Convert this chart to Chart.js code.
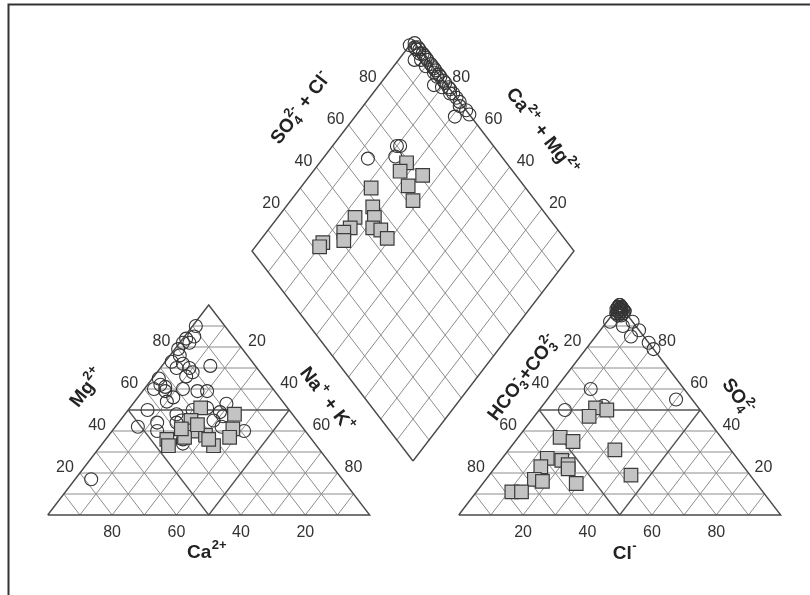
<!DOCTYPE html>
<html>
<head>
<meta charset="utf-8">
<script src="https://cdn.jsdelivr.net/npm/chart.js@4.4.0/dist/chart.umd.min.js"></script>
<style>
html,body{margin:0;padding:0;background:#ffffff;}
canvas{display:block;}
</style>
</head>
<body>
<canvas id="c" width="810" height="595"></canvas>
<script>
// ---------------- DATA (percent of meq) ----------------
// Cation triangle – open circles
const catCircleCa  = [9,15,12,15,17,20,21,25,22,21,25,21,24,14,33,34,37,33,33,28,24,21,36,44,51,44,46,36,36,25,18,26,19,22,41,78,30,38,25,34,40,22];
const catCircleMg  = [90,84,85,82,82,79,76,73,72,70,70,68,66,71,65,62,60,61,56,60,59,59,54,50,42,44,40,48,45,51,53,45,40,47,34,17,50,44,42,59,36,49];
const catCircleNaK = [1,1,3,3,1,1,3,2,6,9,5,11,10,15,2,4,3,6,11,12,17,20,10,6,7,12,14,16,19,24,29,29,41,31,25,5,20,18,33,7,24,29];
// Cation triangle – grey squares
const catSquareCa  = [27,18,22,33,35,45,46,39,38,32,32,25,32,32];
const catSquareMg  = [51,48,41,45,40,36,33,37,41,38,33,37,43,36];
const catSquareNaK = [22,34,37,22,25,19,21,24,21,30,35,38,25,32];

// Anion triangle – open circles
const anCircleSO4  = [92,90,92,88,85,82,79,60,50,52,55,100,99,99,98,98,98,97,97,97,96,96,96,99,100,98,97,99,98,97,98,100,99,97,96,99,98,97,96,95,95];
const anCircleCl   = [1,6,8,12,11,18,21,11,8,19,40,0,1,0,1,2,0,2,1,3,2,3,1,1,0,1,1,0,1,2,1,0,1,1,2,0,2,3,1,2,3];
const anCircleHCO3 = [7,4,0,0,4,0,0,29,42,29,5,0,0,1,1,0,2,1,2,0,2,1,3,0,0,1,2,1,1,1,1,0,0,2,2,1,0,0,3,3,2];
// Anion triangle – grey squares
const anSquareSO4  = [51,50,47,37,35,31,27,26,24,22,23,17,16,15,19,11,11];
const anSquareCl   = [17,21,17,13,18,33,14,19,22,23,14,15,18,29,44,11,14];
const anSquareHCO3 = [32,29,36,50,47,36,59,55,54,55,63,68,66,56,37,78,75];

// Diamond – open circles (SO4+Cl, Ca+Mg)
const diaCircleSO4Cl = [98,99,100,100,100,96,100,100,100,100,96,100,100,100,95,71,70,67,58,100,99,100,98,100,99,100,99,100,100,99,100,98,100,99,100,100,98,100,99,100];
const diaCircleCaMg  = [100,98,96,93,91,95,89,86,83,80,83,77,71,67,69,79,80,78,86,99,97,94,93,88,84,75,70,65,97,95,92,90,87,86,84,81,80,78,76,73];
// Diamond – grey squares
const diaSquareSO4Cl = [69,65,71,64,62,52,48,46,43,45,45,40,36,33,31,24,22];
const diaSquareCaMg  = [73,73,65,67,62,78,73,70,68,65,61,76,75,76,74,80,80];

const tickValues = [20,40,60,80];

// ---------------- GEOMETRY (layout only) ----------------
const W = 322, H = 210, BASE_Y = 515, CAT_X0 = 47.7, AN_X0 = 458.7, DIA_X = 413, DIA_Y = 461;

function catXY(mg, nak){ return {x: CAT_X0 + W*(nak + mg/2)/100, y: BASE_Y - H*mg/100}; }
function anXY(so4, cl){ return {x: AN_X0 + W*(cl + so4/2)/100, y: BASE_Y - H*so4/100}; }
function diaXY(a, c){ return {x: DIA_X + (W/2)*(a - c)/100, y: DIA_Y - H*(a + c)/100}; }

function catPoints(ca, mg, nak){
  return ca.map((v,i)=>{ const s = v + mg[i] + nak[i]; return catXY(100*mg[i]/s, 100*nak[i]/s); });
}
function anPoints(so4, cl, hco3){
  return so4.map((v,i)=>{ const s = v + cl[i] + hco3[i]; return anXY(100*v/s, 100*cl[i]/s); });
}
function diaPoints(a, c){ return a.map((v,i)=>diaXY(v, c[i])); }

const GAP = {x:null, y:null};
function segs(list){ const out=[]; list.forEach(s=>{ out.push(s[0], s[1], GAP); }); return out; }

function triLines(proj, ks){
  const L = [];
  ks.forEach(k=>{
    L.push([proj(k,0), proj(k,100-k)]);
    L.push([proj(0,k), proj(100-k,k)]);
    L.push([proj(0,100-k), proj(100-k,0)]);
  });
  return L;
}
function triOutline(proj){ return [proj(0,0), proj(0,100), proj(100,0), proj(0,0)]; }

const minorK = [10,20,30,40,60,70,80,90];
const allK = [10,20,30,40,50,60,70,80,90];

const gridMinor = segs([
  ...triLines(catXY, minorK),
  ...triLines(anXY, minorK),
  ...allK.map(k=>[diaXY(k,0), diaXY(k,100)]),
  ...allK.map(k=>[diaXY(0,k), diaXY(100,k)])
]);
const gridMedial = segs([...triLines(catXY,[50]), ...triLines(anXY,[50])]);
const outlines = [
  ...triOutline(catXY), GAP,
  ...triOutline(anXY), GAP,
  diaXY(0,0), diaXY(100,0), diaXY(100,100), diaXY(0,100), diaXY(0,0)
];

const circleStyle = {type:'scatter', pointStyle:'circle', pointRadius:6.5, pointHoverRadius:6.5,
  pointBorderColor:'#353535', pointBackgroundColor:'rgba(255,255,255,0)', pointBorderWidth:1.1, showLine:false, order:1};
const squareStyle = {type:'scatter', pointStyle:'rect', pointRadius:9.6, pointHoverRadius:9.6,
  pointBorderColor:'#3c3c3c', pointBackgroundColor:'#c3c3c3', pointBorderWidth:1.2, showLine:false, order:0};
const lineStyle = {type:'scatter', showLine:true, pointRadius:0, pointHoverRadius:0, spanGaps:false, tension:0};

// ---------------- TEXT PLUGIN ----------------
const FONT = '"Liberation Sans", Arial, Helvetica, sans-serif';
function drawRich(ctx, parts, cx, cy, angleDeg, size, bold){
  const wt = bold ? 'bold ' : '';
  const small = Math.round(size*0.68);
  ctx.save();
  ctx.translate(cx, cy);
  ctx.rotate(angleDeg*Math.PI/180);
  ctx.textBaseline = 'alphabetic';
  ctx.textAlign = 'left';
  const widthOf = p=>{
    if (typeof p === 'string'){ ctx.font = wt+size+'px '+FONT; return ctx.measureText(p).width; }
    ctx.font = wt+small+'px '+FONT;
    return Math.max(p.sup ? ctx.measureText(p.sup).width : 0, p.sub ? ctx.measureText(p.sub).width : 0) + 1;
  };
  let total = 0; parts.forEach(p=> total += widthOf(p));
  let x = -total/2; const base = size*0.36;
  parts.forEach(p=>{
    const w = widthOf(p);
    if (typeof p === 'string'){
      ctx.font = wt+size+'px '+FONT; ctx.fillText(p, x, base);
    } else {
      ctx.font = wt+small+'px '+FONT;
      if (p.sup) ctx.fillText(p.sup, x+0.5, base - size*0.45);
      if (p.sub) ctx.fillText(p.sub, x+0.5, base + size*0.22);
    }
    x += w;
  });
  ctx.restore();
}

const textPlugin = {
  id:'piperText',
  afterDraw(chart){
    const ctx = chart.ctx;
    const sx = chart.scales.x, sy = chart.scales.y;
    const P = p => ({x: sx.getPixelForValue(p.x), y: sy.getPixelForValue(p.y)});
    // frame
    ctx.save();
    ctx.strokeStyle = '#333'; ctx.lineWidth = 2;
    ctx.beginPath(); ctx.moveTo(8.5, 595); ctx.lineTo(8.5, 4.5); ctx.lineTo(810, 4.5); ctx.stroke();
    ctx.restore();
    // tick labels
    ctx.save();
    ctx.fillStyle = '#333';
    ctx.font = '16px '+FONT;
    ctx.textAlign = 'center'; ctx.textBaseline = 'middle';
    const put = (p, dx, dy, t) => { const q = P(p); ctx.fillText(String(t), q.x+dx, q.y+dy); };
    tickValues.forEach(v=>{
      put(catXY(v,0), -15, -5, v);          // Mg (left edge)
      put(catXY(100-v,v), 16, -5, v);       // Na+K (right edge), 0 at apex
      put(catXY(0,100-v), 0, 18, v);        // Ca (base)
      put(anXY(100-v,0), -15, -5, v);       // HCO3 (left edge)
      put(anXY(v,100-v), 15, -5, v);        // SO4 (right edge)
      put(anXY(0,v), 0, 18, v);             // Cl (base)
      put(diaXY(v,100), -13, -5, v);        // SO4+Cl (upper-left edge)
      put(diaXY(100,v), 16, -5, v);         // Ca+Mg (upper-right edge)
    });
    ctx.restore();
    // axis titles
    ctx.save();
    ctx.fillStyle = '#222';
    const A = 52.5, FS = 19;
    const T = (x,y) => P({x:x, y:y});
    let q;
    q = T(207,551); drawRich(ctx, ['Ca',{sup:'2+'}], q.x, q.y, 0, FS, true);
    q = T(86,387);  drawRich(ctx, ['Mg',{sup:'2+'}], q.x, q.y, -A, FS, true);
    q = T(328,399); drawRich(ctx, ['Na',{sup:'+'},' + K',{sup:'+'}], q.x, q.y, A, FS, true);
    q = T(625,552); drawRich(ctx, ['Cl',{sup:'-'}], q.x, q.y, 0, FS, true);
    q = T(522,377); drawRich(ctx, ['HCO',{sub:'3',sup:'-'},'+CO',{sub:'3',sup:'2-'}], q.x, q.y, -A, FS, true);
    q = T(739,396); drawRich(ctx, ['SO',{sub:'4',sup:'2-'}], q.x, q.y, A, FS, true);
    q = T(300,107); drawRich(ctx, ['SO',{sub:'4',sup:'2-'},' + Cl',{sup:'-'}], q.x, q.y, -A, FS, true);
    q = T(543,131); drawRich(ctx, ['Ca',{sup:'2+'},' + Mg',{sup:'2+'}], q.x, q.y, A, FS, true);
    ctx.restore();
  }
};

// ---------------- CHART ----------------
new Chart(document.getElementById('c'), {
  type:'scatter',
  data:{
    datasets:[
      {...squareStyle, label:'cat sq', data: catPoints(catSquareCa, catSquareMg, catSquareNaK)},
      {...squareStyle, label:'an sq', data: anPoints(anSquareSO4, anSquareCl, anSquareHCO3)},
      {...squareStyle, label:'dia sq', data: diaPoints(diaSquareSO4Cl, diaSquareCaMg)},
      {...circleStyle, label:'cat c', data: catPoints(catCircleCa, catCircleMg, catCircleNaK)},
      {...circleStyle, label:'an c', data: anPoints(anCircleSO4, anCircleCl, anCircleHCO3)},
      {...circleStyle, label:'dia c', data: diaPoints(diaCircleSO4Cl, diaCircleCaMg)},
      {...lineStyle, label:'outline', data: outlines, borderColor:'#4a4a4a', borderWidth:1.4, order:2},
      {...lineStyle, label:'medial', data: gridMedial, borderColor:'#555', borderWidth:1.3, order:3},
      {...lineStyle, label:'grid', data: gridMinor, borderColor:'#8c8c8c', borderWidth:1, order:4}
    ]
  },
  options:{
    responsive:false,
    animation:false,
    events:[],
    layout:{padding:0, autoPadding:false},
    plugins:{legend:{display:false}, tooltip:{enabled:false}},
    scales:{
      x:{type:'linear', min:0, max:810, display:false},
      y:{type:'linear', min:0, max:595, reverse:true, display:false}
    }
  },
  plugins:[textPlugin]
});
</script>
</body>
</html>
